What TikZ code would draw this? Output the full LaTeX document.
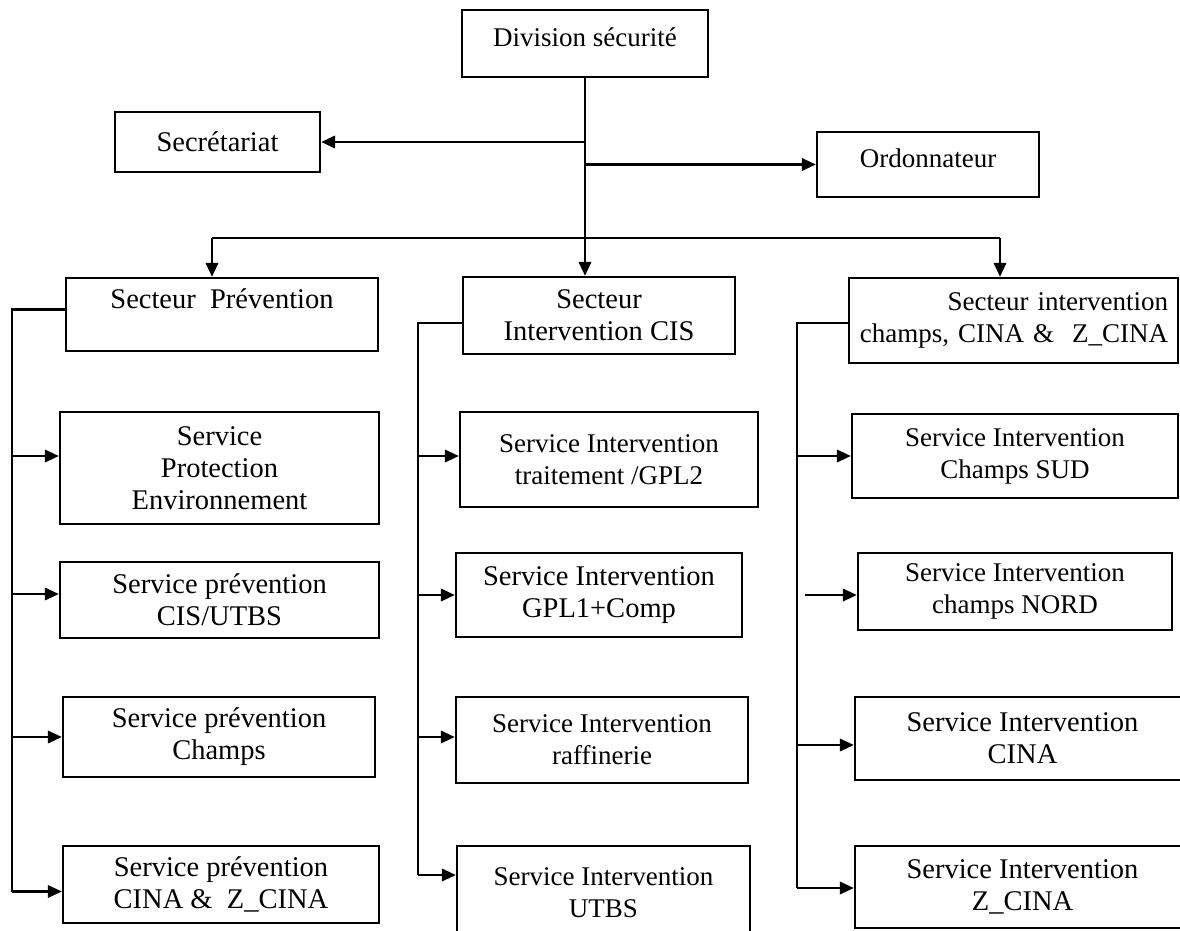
\documentclass[tikz,border=0pt]{standalone}
\usepackage{fontspec}
\setmainfont{Liberation Serif}
\usetikzlibrary{arrows.meta}
\tikzset{
  box/.style={draw,line width=2.4pt,align=center,inner sep=3pt,
    font=\fontsize{27}{32}\selectfont},
  bigbox/.style={box,font=\fontsize{28.5}{32}\selectfont},
  link/.style={line width=2.2pt},
  arr/.style={link,-{Triangle[length=14pt,width=12.5pt]}},
}

\begin{document}
\begin{tikzpicture}[x=1pt,y=-1pt]
  \path[use as bounding box] (0,0) rectangle (1180,931);
  \clip (0,0) rectangle (1180,931);
  % head of the division
  \node[box,minimum width=246pt,minimum height=67pt,text depth=12pt] (div) at (585,43.5) {Division sécurité};
  \node[bigbox,minimum width=205pt,minimum height=60pt] (sec) at (217.5,142) {Secrétariat};
  \node[box,minimum width=222pt,minimum height=65pt,text depth=12pt] (ord) at (928,164.5) {Ordonnateur};
  % the three sectors
  \node[bigbox,minimum width=312pt,minimum height=73pt] (prev) at (222,314.5) {Secteur\ \ Prévention\\\mbox{}};
  \node[bigbox,minimum width=272pt,minimum height=77pt] (cis) at (599,315.5) {Secteur\\Intervention CIS};
  \node[box,minimum width=329pt,minimum height=85pt,text width=309pt,inner xsep=10pt,align=right] (chp) at (1013.5,320.5) {Secteur intervention\\champs, CINA \&\ \ Z\_CINA};
  % prevention services
  \node[bigbox,minimum width=319pt,minimum height=112pt] (penv) at (219.5,468) {Service\\Protection\\Environnement};
  \node[bigbox,minimum width=319pt,minimum height=76pt] (pcis) at (219.5,600) {Service prévention\\CIS/UTBS};
  \node[bigbox,minimum width=312pt,minimum height=80pt] (pchp) at (219,737) {Service prévention\\Champs};
  \node[bigbox,minimum width=316pt,minimum height=77pt] (pcina) at (221,884.5) {Service prévention\\CINA \&\ \ Z\_CINA};
  % CIS intervention services
  \node[box,minimum width=298pt,minimum height=95pt] (itrt) at (609,459.5) {Service Intervention\\traitement /GPL2};
  \node[bigbox,minimum width=286pt,minimum height=84pt] (igpl) at (599,595) {Service Intervention\\GPL1+Comp};
  \node[box,minimum width=292pt,minimum height=86pt] (iraf) at (602,740) {Service Intervention\\raffinerie};
  \node[box,minimum width=293pt,minimum height=94pt] (iutbs) at (603.5,893) {Service Intervention\\UTBS};
  % field intervention services
  \node[box,minimum width=326pt,minimum height=84pt] (sud) at (1015,456) {Service Intervention\\Champs SUD};
  \node[box,minimum width=314pt,minimum height=77pt] (nord) at (1015,591.5) {Service Intervention\\champs NORD};
  \node[bigbox,minimum width=335pt,minimum height=83pt] (cina) at (1022.5,738.5) {Service Intervention\\CINA};
  \node[bigbox,minimum width=335pt,minimum height=82pt] (zcina) at (1022.5,887) {Service Intervention\\Z\_CINA};

  \coordinate (lbar) at (212,238);
  \coordinate (rbar) at (1000,238);
  \coordinate (lcol) at (12,0);
  \coordinate (mcol) at (418,0);
  \coordinate (rcol) at (797,0);

  % trunk
  \draw[arr] (div.south) -- (div.south |- cis.north);
  \draw[arr] (div.south |- sec.east) -- (sec.east);
  \draw[arr] (div.south |- ord.west) -- (ord.west);
  \draw[link] (lbar) -- (rbar);
  \draw[arr] (lbar) -- (lbar |- prev.north);
  \draw[arr] (rbar) -- (rbar |- chp.north);

  % columns
  \draw[link] ([yshift=5pt]prev.west) -| ([yshift=-7pt]pcina.west -| lcol);
  \foreach \n/\dy in {penv/12,pcis/6,pchp/0,pcina/-7}
    \draw[arr] ([yshift=\dy pt]\n.west -| lcol) -- ([yshift=\dy pt]\n.west);

  \draw[link] ([yshift=-7.5pt]cis.west) -| ([yshift=18pt]iutbs.west -| mcol);
  \foreach \n/\dy in {itrt/3.5,igpl/0,iraf/3,iutbs/18}
    \draw[arr] ([yshift=\dy pt]\n.west -| mcol) -- ([yshift=\dy pt]\n.west);

  \draw[link] ([yshift=-2.5pt]chp.west) -| ([yshift=-1pt]zcina.west -| rcol);
  \foreach \n/\dy in {sud/0,cina/-6.5,zcina/-1}
    \draw[arr] ([yshift=\dy pt]\n.west -| rcol) -- ([yshift=\dy pt]\n.west);
  \draw[arr] ([yshift=-3.5pt,xshift=8pt]nord.west -| rcol) -- ([yshift=-3.5pt]nord.west);
\end{tikzpicture}
\end{document}
